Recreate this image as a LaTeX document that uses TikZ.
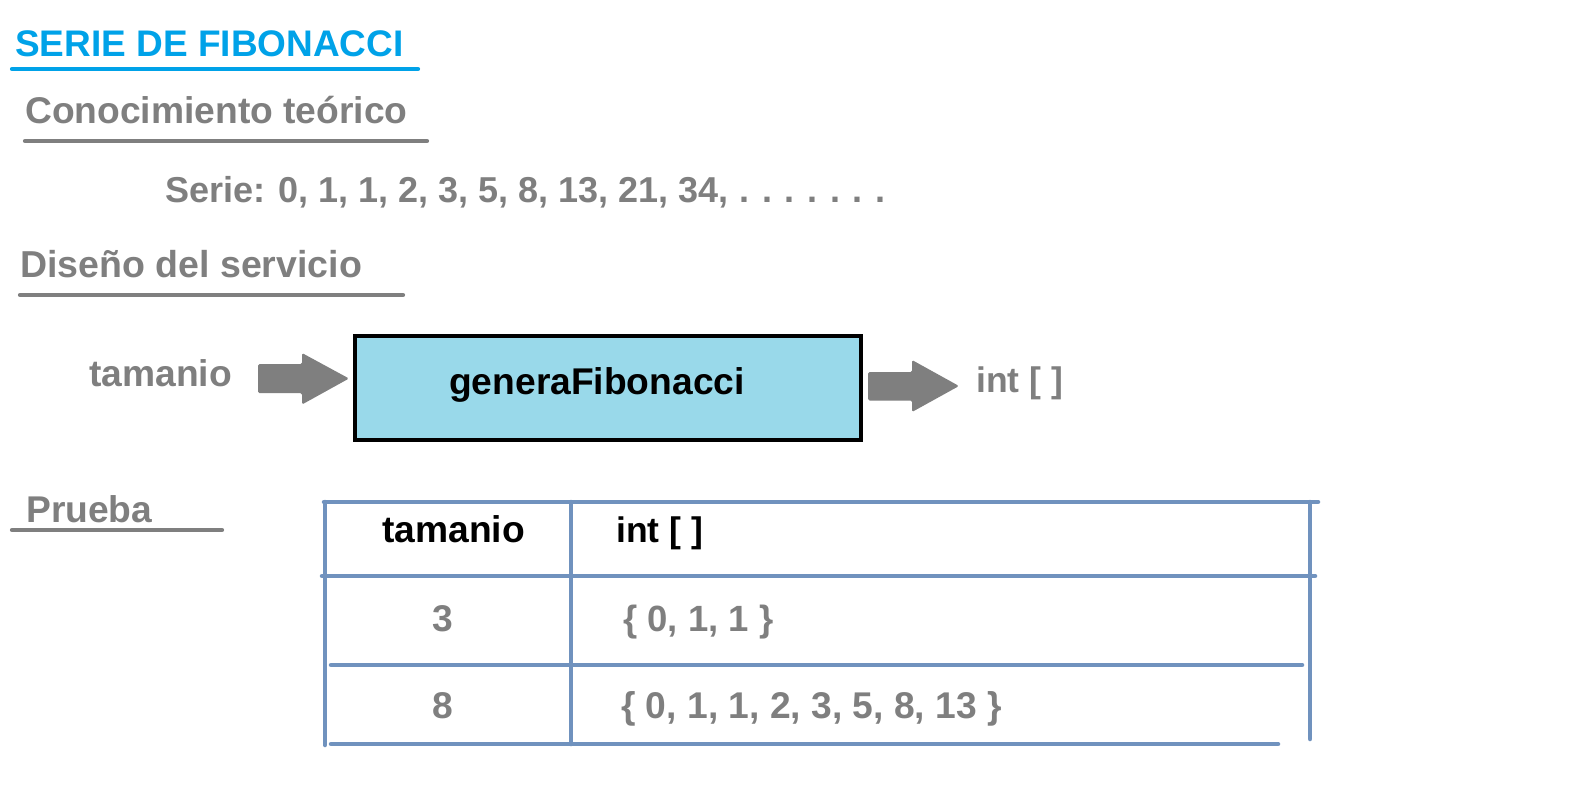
\documentclass[tikz,border=0pt]{standalone}
\usepackage{fontspec}
\setmainfont{Liberation Sans}
\definecolor{titleblue}{RGB}{0,162,232}
\definecolor{txtgray}{RGB}{127,127,127}
\definecolor{boxfill}{RGB}{153,217,234}
\definecolor{tblline}{RGB}{112,146,190}
\tikzset{
  lbl/.style={anchor=base west, inner sep=0pt, font=\fontsize{37.2}{40}\selectfont\bfseries},
  graylbl/.style={lbl, text=txtgray},
  blacklbl/.style={lbl, text=black},
  uline/.style={line width=4.2pt, line cap=round, draw=txtgray},
  tline/.style={line width=4.5pt, line cap=round, draw=tblline},
  blockarrow/.style={fill=txtgray, rounded corners=1.5pt},
}
\newcommand{\dotgap}{\hspace{0.35em}}
\begin{document}
\begin{tikzpicture}[x=1pt,y=-1pt]
\useasboundingbox[fill=white] (0,0) rectangle (1589,787);

% title
\node[lbl, text=titleblue, font=\fontsize{37}{40}\selectfont\bfseries] (title) at (15,56) {SERIE DE FIBONACCI};
\draw[line width=4.2pt, line cap=round, draw=titleblue] (12,69) -- (418,69);

% Conocimiento teorico
\node[graylbl] (conoc) at (25,123) {Conocimiento teórico};
\draw[uline] (25,141) -- (427,141);
\node[graylbl, font=\fontsize{36}{40}\selectfont\bfseries] (serie) at (165,202) {Serie: 0, 1, 1, 2, 3, 5, 8, 13, 21, 34,\hspace{0.3em}.\dotgap.\dotgap.\dotgap.\dotgap.\dotgap.\dotgap.};

% Diseno del servicio
\node[graylbl, font=\fontsize{37.5}{40}\selectfont\bfseries] (diseno) at (20,277) {Diseño del servicio};
\draw[uline] (20,295) -- (403,295);

\node[graylbl] (inlbl) at (89,386) {tamanio};
\draw[line width=4pt, fill=boxfill] (355,336) rectangle (861,440);
\node[blacklbl] (box) at (449,394) {generaFibonacci};
\node[graylbl, font=\fontsize{35.5}{40}\selectfont\bfseries] (outlbl) at (976,392) {int [ ]};

\coordinate (a1) at (258,378.5);
\coordinate (a2) at (868,386.5);
\fill[blockarrow] (a1) ++(0,-14.5) -- ++(44,0) -- ++(0,-11) -- ++(47,25.5) -- ++(-47,26) -- ++(0,-11.5) -- ++(-44,0) -- cycle;
\fill[blockarrow] (a2) ++(0,-14.5) -- ++(44,0) -- ++(0,-12) -- ++(47,26) -- ++(-47,26) -- ++(0,-11.5) -- ++(-44,0) -- cycle;

% Prueba
\node[graylbl] (prueba) at (26,522) {Prueba};
\draw[uline] (12,530) -- (222,530);

% table
\draw[tline] (324,502) -- (1318,502);
\draw[tline] (322,576) -- (1315,576);
\draw[tline] (331,665) -- (1302,665);
\draw[tline] (331,744) -- (1278,744);
\draw[tline] (325,502) -- (325,745);
\draw[tline] (571,502) -- (571,744);
\draw[tline] (1310,502) -- (1310,739);

\node[blacklbl] (h1) at (382,542) {tamanio};
\node[blacklbl, font=\fontsize{35.5}{40}\selectfont\bfseries] (h2) at (616,542) {int [ ]};
\node[graylbl] (r1a) at (432,631) {3};
\node[graylbl, font=\fontsize{36.5}{40}\selectfont\bfseries] (r1b) at (623,631) {\{ 0, 1, 1 \}};
\node[graylbl] (r2a) at (432,718) {8};
\node[graylbl] (r2b) at (621,718) {\{ 0, 1, 1, 2, 3, 5, 8, 13 \}};
\end{tikzpicture}
\end{document}
